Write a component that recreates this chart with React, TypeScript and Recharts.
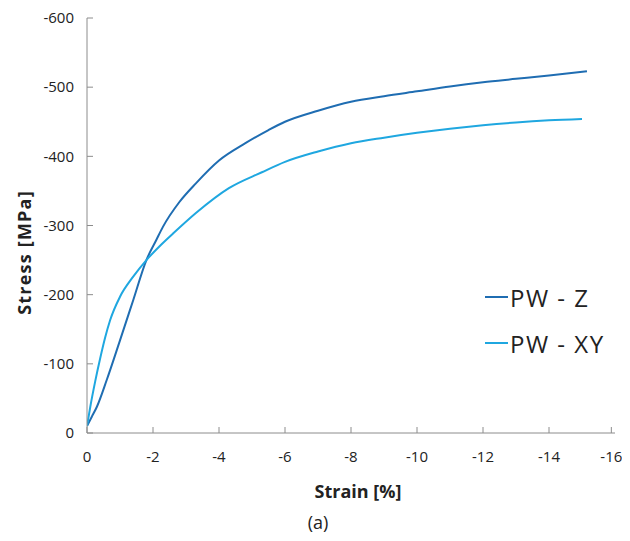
import React from 'react';
import { Line, LineChart, XAxis, YAxis } from 'recharts';

// PW - Z specimen (compression, strain in %, stress in MPa)
const zStrain = [0, -0.15, -0.3, -0.6, -1.0, -1.4, -1.8, -2.1, -2.3, -2.8, -3.3, -4.0, -4.8, -5.5, -6.0, -7.0, -8.0, -9.0, -10.0, -11.0, -12.0, -13.0, -14.0, -15.15];
const zStress = [-10, -24, -38, -77, -134, -192, -250, -279, -298, -334, -361, -394, -419, -438, -450, -466, -479, -487, -494, -501, -507, -512, -517, -523];

// PW - XY specimen
const xyStrain = [0, -0.1, -0.25, -0.4, -0.55, -0.7, -1.0, -1.4, -1.8, -2.2, -2.6, -3.3, -4.3, -5.3, -6.0, -7.0, -8.0, -9.0, -10.0, -11.0, -12.0, -13.0, -14.0, -15.0];
const xyStress = [-10, -38, -75, -108, -138, -163, -197, -226, -250, -270, -288, -318, -354, -377, -392, -407, -419, -427, -434, -440, -445, -449, -452, -454];

const xTicks = [0, -2, -4, -6, -8, -10, -12, -14, -16];
const yTicks = [0, -100, -200, -300, -400, -500, -600];

const seriesNames = ['PW - Z', 'PW - XY'];
const seriesColors = ['#1f6db2', '#1fa7e0'];

const zData = zStrain.map((s, i) => ({ strain: s, stress: zStress[i] }));
const xyData = xyStrain.map((s, i) => ({ strain: s, stress: xyStress[i] }));

const FONT = '"Open Sans", sans-serif';
const AXIS = '#8c8c8c';
const TICK_LEN = 6;
const X_GAP = 24;
const Y_GAP = 13;

const XTick = (props: any) => {
  const { x, y, payload } = props;
  const ay = y - X_GAP;
  return (
    <g>
      <line x1={x} y1={ay} x2={x} y2={ay - TICK_LEN} stroke={AXIS} />
      <text x={x} y={y} dy="0.35em" textAnchor="middle" fontSize={15} fontFamily={FONT} fill="#222">
        {payload.value}
      </text>
    </g>
  );
};

const YTick = (props: any) => {
  const { x, y, payload } = props;
  const ax = x + Y_GAP;
  return (
    <g>
      <line x1={ax} y1={y} x2={ax + TICK_LEN} y2={y} stroke={AXIS} />
      <text x={x} y={y} dy="0.35em" textAnchor="end" fontSize={15} fontFamily={FONT} fill="#222">
        {payload.value}
      </text>
    </g>
  );
};

const XTitle = (props: any) => {
  const { x, y, width } = props.viewBox;
  return (
    <g>
      <text x={x + width / 2 + 7} y={y + 59} dy="0.35em" textAnchor="middle" fontSize={18} fontWeight="bold" fontFamily={FONT} fill="#222">
        Strain [%]
      </text>
      <text x={x + width / 2 - 33} y={y + 90} dy="0.35em" textAnchor="middle" fontSize={18} fontFamily={FONT} fill="#222">
        (a)
      </text>
    </g>
  );
};

const YTitle = (props: any) => {
  const { x, y, height } = props.viewBox;
  const cx = x + 17;
  const cy = y + height / 2 + 27;
  return (
    <text
      x={cx}
      y={cy}
      dy="0.35em"
      textAnchor="middle"
      transform={`rotate(-90, ${cx}, ${cy})`}
      fontSize={18}
      fontWeight="bold"
      letterSpacing={1.2}
      fontFamily={FONT}
      fill="#222"
    >
      Stress [MPa]
    </text>
  );
};

export default function App() {
  return (
    <div style={{ position: 'relative', width: 614, height: 525 }}>
      <LineChart width={614} height={525} margin={{ top: 10, right: 7, left: 0, bottom: 70 }}>
        <XAxis
          type="number"
          dataKey="strain"
          domain={[-16, 0]}
          ticks={xTicks}
          reversed
          allowDataOverflow
          height={30}
          stroke={AXIS}
          tickSize={0}
          tickMargin={X_GAP}
          tick={<XTick />}
          label={<XTitle />}
        />
        <YAxis
          type="number"
          dataKey="stress"
          domain={[-600, 0]}
          ticks={yTicks}
          reversed
          width={79}
          stroke={AXIS}
          tickSize={0}
          tickMargin={Y_GAP}
          tick={<YTick />}
          label={<YTitle />}
        />
        <Line
          data={zData}
          dataKey="stress"
          name={seriesNames[0]}
          type="monotone"
          stroke={seriesColors[0]}
          strokeWidth={2}
          dot={false}
          isAnimationActive={false}
        />
        <Line
          data={xyData}
          dataKey="stress"
          name={seriesNames[1]}
          type="monotone"
          stroke={seriesColors[1]}
          strokeWidth={2}
          dot={false}
          isAnimationActive={false}
        />
      </LineChart>
      <div style={{ position: 'absolute', left: 477, top: 266, fontFamily: FONT }}>
        {seriesNames.map((name, i) => (
          <div key={name} style={{ display: 'flex', alignItems: 'center', height: 46 }}>
            <span style={{ display: 'inline-block', width: 23, height: 2, background: seriesColors[i], marginRight: 2 }} />
            <span style={{ fontSize: 24, letterSpacing: 1.5, color: '#222' }}>{name}</span>
          </div>
        ))}
      </div>
    </div>
  );
}
